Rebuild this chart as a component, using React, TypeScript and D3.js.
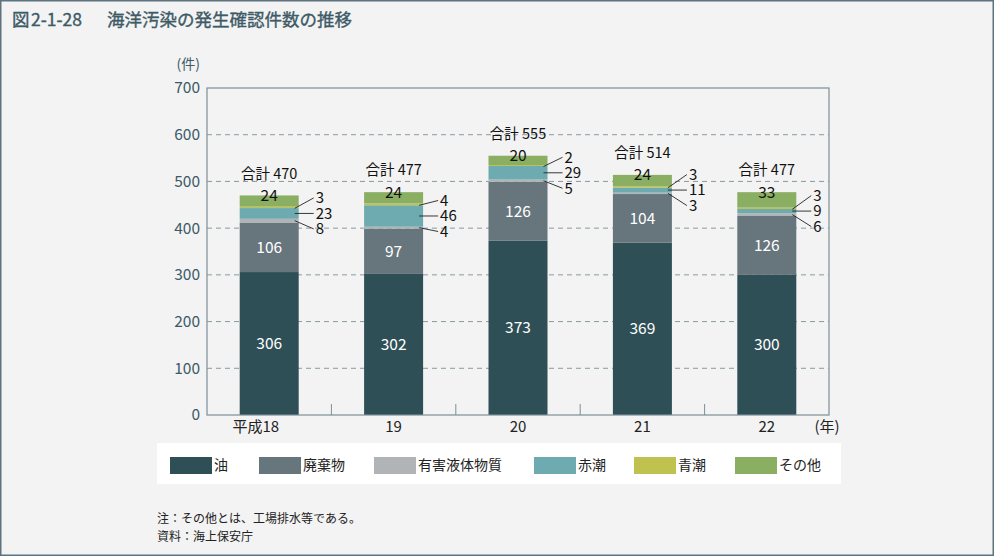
import React from "react";
import * as d3 from "d3";

const categories = ["平成18", "19", "20", "21", "22"];
const seriesNames = ["油", "廃棄物", "有害液体物質", "赤潮", "青潮", "その他"];
const oil = [306, 302, 373, 369, 300];
const waste = [106, 97, 126, 104, 126];
const hazardous = [8, 4, 5, 3, 6];
const redTide = [23, 46, 29, 11, 9];
const blueTide = [3, 4, 2, 3, 3];
const other = [24, 24, 20, 24, 33];
const yTicks = [0, 100, 200, 300, 400, 500, 600, 700];
const colors = ["#2f4f57", "#67757d", "#b1b4b6", "#6eabb0", "#bfc24f", "#8aae62"];

const W = 994;
const H = 556;
const FONT = "'Noto Sans CJK JP', 'Noto Sans', sans-serif";

export default function App() {
  const series = [oil, waste, hazardous, redTide, blueTide, other];
  const rows = categories.map((c, i) => {
    const r: any = { cat: c };
    seriesNames.forEach((s, k) => (r[s] = series[k][i]));
    return r;
  });
  const stacked = d3.stack().keys(seriesNames)(rows);

  const left = 207, right = 829, top = 88, bottom = 415;
  const x = d3.scaleBand().domain(categories).range([left, right]).paddingInner(0).paddingOuter(0);
  const y = d3.scaleLinear().domain([0, 700]).range([bottom, top]);
  const barW = 59;
  const axisColor = "#7d8f98";
  const textColor = "#3d5a66";

  const totals = categories.map((_, i) => series.reduce((a, s) => a + s[i], 0));

  return (
    <svg width={W} height={H} style={{ display: "block", position: "absolute", left: 0, top: 0 }} fontFamily={FONT}>
      <rect x={0} y={0} width={W} height={H} fill="#f3f3f3" />
      <rect x={0.75} y={0.75} width={W - 1.5} height={H - 1.5} fill="none" stroke="#5d7480" strokeWidth={1.5} />
      <g fill={textColor} fontSize={17.5} stroke={textColor} strokeWidth={0.35}>
        <text x={12} y={26}>図</text>
        <text x={31} y={26}>2-1-28</text>
        <text x={107} y={26}>海洋汚染の発生確認件数の推移</text>
      </g>

      {/* gridlines */}
      {yTicks.filter((t) => t > 0 && t < 700).map((t) => (
        <line key={t} x1={left} x2={right} y1={y(t)} y2={y(t)} stroke="#8a9aa2" strokeDasharray="5,4" strokeWidth={1} />
      ))}
      {/* y labels */}
      {yTicks.map((t) => (
        <text key={t} x={200} y={y(t)} dy="0.35em" textAnchor="end" fontSize={15.5} fill={textColor}>
          {t}
        </text>
      ))}
      <text x={200} y={69} textAnchor="end" fontSize={14} fill={textColor}>(件)</text>

      {/* bars */}
      {stacked.map((s, k) => (
        <g key={s.key}>
          {s.map((d, i) => (
            <rect
              key={i}
              x={(x(categories[i]) as number) + x.bandwidth() / 2 - barW / 2}
              y={y(d[1])}
              width={barW}
              height={y(d[0]) - y(d[1])}
              fill={colors[k]}
            />
          ))}
        </g>
      ))}

      {/* frame */}
      <rect x={left} y={top} width={right - left} height={bottom - top} fill="none" stroke={axisColor} strokeWidth={1.2} />
      {categories.slice(1).map((c) => (
        <line key={c} x1={x(c) as number} x2={x(c) as number} y1={bottom} y2={bottom - 11} stroke={axisColor} strokeWidth={1} />
      ))}

      {/* labels */}
      {categories.map((c, i) => {
        const cx = (x(c) as number) + x.bandwidth() / 2;
        const bx = cx + barW / 2;
        const oilS = stacked[0][i];
        const wasteS = stacked[1][i];
        const hazS = stacked[2][i];
        const redS = stacked[3][i];
        const blueS = stacked[4][i];
        const otherS = stacked[5][i];
        const mid = (d: any) => (y(d[0]) + y(d[1])) / 2;
        const redMid = mid(redS);
        const lx = bx + 17;
        const off = 15.5;
        return (
          <g key={c}>
            <text x={cx} y={mid(oilS)} dy="0.35em" textAnchor="middle" fontSize={15.5} fill="#ffffff">{oil[i]}</text>
            <text x={cx} y={mid(wasteS)} dy="0.35em" textAnchor="middle" fontSize={15.5} fill="#ffffff">{waste[i]}</text>
            <text x={cx} y={y(otherS[1])} dy="0.35em" textAnchor="middle" fontSize={15.5} fill="#111">{other[i]}</text>
            <text x={cx} y={y(otherS[1]) - 22} dy="0.35em" textAnchor="middle" fontSize={14.5} fill="#111">{`合計 ${totals[i]}`}</text>
            <line x1={bx - 4} y1={mid(blueS) + 1} x2={lx - 2} y2={redMid - off} stroke="#222" strokeWidth={0.9} />
            <line x1={bx - 4} y1={redMid} x2={lx - 2} y2={redMid} stroke="#222" strokeWidth={0.9} />
            <line x1={bx - 4} y1={mid(hazS)} x2={lx - 2} y2={redMid + off} stroke="#222" strokeWidth={0.9} />
            <text x={lx} y={redMid - off} dy="0.35em" fontSize={15} fill="#111">{blueTide[i]}</text>
            <text x={lx} y={redMid} dy="0.35em" fontSize={15} fill="#111">{redTide[i]}</text>
            <text x={lx} y={redMid + off} dy="0.35em" fontSize={15} fill="#111">{hazardous[i]}</text>
          </g>
        );
      })}

      {/* x labels */}
      {categories.map((c, i) => {
        const cx = (x(c) as number) + x.bandwidth() / 2;
        return (
          <text key={c} x={i === 0 ? cx + 10 : cx} y={427} dy="0.35em" textAnchor={i === 0 ? "end" : "middle"} fontSize={15} fill="#222">
            {c}
          </text>
        );
      })}
      <text x={827} y={427} dy="0.35em" textAnchor="middle" fontSize={15} fill="#222">(年)</text>

      {/* legend */}
      <rect x={157} y={443} width={684} height={41} fill="#ffffff" />
      {seriesNames.map((s, k) => {
        const xs = [170, 259, 374, 534, 634, 735];
        return (
          <g key={s}>
            <rect x={xs[k]} y={457} width={42} height={17} fill={colors[k]} />
            <text x={xs[k] + 44} y={465.5} dy="0.35em" fontSize={14} fill="#222">{s}</text>
          </g>
        );
      })}

      <text x={157} y={523} fontSize={12} fill="#222">注：その他とは、工場排水等である。</text>
      <text x={157} y={541} fontSize={12} fill="#222">資料：海上保安庁</text>
    </svg>
  );
}
